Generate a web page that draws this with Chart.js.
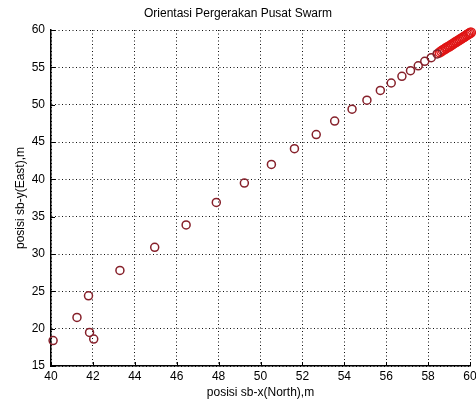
<!DOCTYPE html>
<html lang="id">
<head>
    <meta charset="UTF-8">
    <title>Orientasi Pergerakan Pusat Swarm</title>
    <script src="https://cdn.jsdelivr.net/npm/chart.js"></script>
    <style>
        body {
            margin: 0;
            padding: 0;
            background: #fff;
        }
        .container {
            width: 476px;
            height: 403px;
        }
    </style>
</head>
<body>
    <div class="container">
        <canvas id="grafikSwarm" width="476" height="403"></canvas>
    </div>

    <script>
        // posisi pusat swarm (North, East)
        const posisiX = [40.1, 41.24, 41.79, 41.84, 42.04, 43.29, 44.95, 46.45, 47.89, 49.23,
                         50.52, 51.62, 52.66, 53.54, 54.37, 55.08, 55.72, 56.24, 56.75, 57.16,
                         57.53, 57.84, 58.15, 58.43];
        const posisiY = [18.4, 21.5, 24.4, 19.5, 18.6, 27.8, 30.9, 33.9, 36.9, 39.5,
                         42.0, 44.1, 46.0, 47.8, 49.4, 50.6, 51.9, 52.9, 53.8, 54.55,
                         55.2, 55.8, 56.3, 56.8];
        // ekor yang rapat di pojok kanan atas
        const ekorX = [58.55, 58.63, 58.7, 58.78, 58.85, 58.92, 59.0, 59.07, 59.14, 59.21,
                       59.28, 59.35, 59.42, 59.5, 59.57, 59.64, 59.71, 59.78, 59.85, 59.92,
                       59.98, 60.04, 60.1];
        const ekorY = [57.0, 57.15, 57.3, 57.42, 57.55, 57.68, 57.8, 57.93, 58.06, 58.18,
                       58.31, 58.43, 58.56, 58.7, 58.82, 58.95, 59.07, 59.2, 59.32, 59.45,
                       59.56, 59.67, 59.78];
        const ticksX = [40, 42, 44, 46, 48, 50, 52, 54, 56, 58, 60];
        const ticksY = [15, 20, 25, 30, 35, 40, 45, 50, 55, 60];

        const fontUtama = "'Liberation Sans', Arial, sans-serif";

        // tick ke dalam ala MATLAB, plus garis sumbu solid
        const tickDalam = {
            id: 'tickDalam',
            afterDraw(chart) {
                const ctx = chart.ctx;
                const area = chart.chartArea;
                const sx = chart.scales.x;
                const sy = chart.scales.y;
                ctx.save();
                ctx.strokeStyle = '#000';
                ctx.lineWidth = 1;
                ctx.beginPath();
                ticksX.forEach(v => {
                    const px = Math.round(sx.getPixelForValue(v)) + 0.5;
                    ctx.moveTo(px, area.bottom);
                    ctx.lineTo(px, area.bottom - 4);
                });
                ticksY.forEach(v => {
                    const py = Math.round(sy.getPixelForValue(v)) + 0.5;
                    ctx.moveTo(area.left, py);
                    ctx.lineTo(area.left + 4, py);
                });
                ctx.stroke();
                ctx.restore();
            }
        };

        const config = {
            type: 'scatter',
            data: {
                datasets: [
                    {
                        label: 'posisi',
                        data: posisiX.map((x, i) => ({ x: x, y: posisiY[i] })),
                        pointStyle: 'circle',
                        pointRadius: 4,
                        pointBorderWidth: 1.5,
                        borderColor: '#86202a',
                        backgroundColor: 'rgba(0,0,0,0)',
                        clip: false
                    },
                    {
                        label: 'ekor',
                        data: ekorX.map((x, i) => ({ x: x, y: ekorY[i] })),
                        pointStyle: 'circle',
                        pointRadius: 4.5,
                        pointBorderWidth: 1.5,
                        borderColor: '#e01515',
                        backgroundColor: 'rgba(0,0,0,0)',
                        clip: false
                    }
                ]
            },
            options: {
                responsive: false,
                animation: false,
                layout: { padding: 0 },
                plugins: {
                    legend: { display: false },
                    tooltip: { enabled: false },
                    title: {
                        display: true,
                        text: 'Orientasi Pergerakan Pusat Swarm',
                        color: '#000',
                        font: { family: fontUtama, size: 12, weight: 'normal', lineHeight: 1.2 },
                        padding: { top: 6, bottom: 9.6 }
                    }
                },
                scales: {
                    x: {
                        type: 'linear',
                        min: 40,
                        max: 60,
                        afterBuildTicks: scale => {
                            scale.ticks = ticksX.map(v => ({ value: v }));
                        },
                        afterFit: scale => {
                            scale.height = 37;
                            scale.paddingLeft = 0;
                            scale.paddingRight = 0;
                        },
                        ticks: {
                            color: '#000',
                            padding: 3,
                            maxRotation: 0,
                            autoSkip: false,
                            font: { family: fontUtama, size: 12 }
                        },
                        grid: {
                            color: '#111',
                            drawTicks: false
                        },
                        border: { display: true, color: '#000', width: 1.5, dash: [1, 2.5] },
                        title: {
                            display: true,
                            text: 'posisi sb-x(North),m',
                            color: '#000',
                            font: { family: fontUtama, size: 12, lineHeight: 1.2 },
                            padding: { top: 0, bottom: 3 }
                        }
                    },
                    y: {
                        type: 'linear',
                        min: 15,
                        max: 60,
                        afterBuildTicks: scale => {
                            scale.ticks = ticksY.map(v => ({ value: v }));
                        },
                        afterFit: scale => {
                            scale.width = 51;
                            scale.paddingTop = 0;
                            scale.paddingBottom = 0;
                        },
                        ticks: {
                            color: '#000',
                            padding: 6,
                            autoSkip: false,
                            font: { family: fontUtama, size: 12 }
                        },
                        grid: {
                            color: '#111',
                            drawTicks: false
                        },
                        border: { display: true, color: '#000', width: 1.5, dash: [1, 2.5] },
                        title: {
                            display: true,
                            text: 'posisi sb-y(East),m',
                            color: '#000',
                            font: { family: fontUtama, size: 12, lineHeight: 1.2 },
                            padding: { top: 13, bottom: 0 }
                        }
                    }
                }
            },
            plugins: [tickDalam]
        };

        new Chart(document.getElementById('grafikSwarm'), config);
    </script>
</body>
</html>
